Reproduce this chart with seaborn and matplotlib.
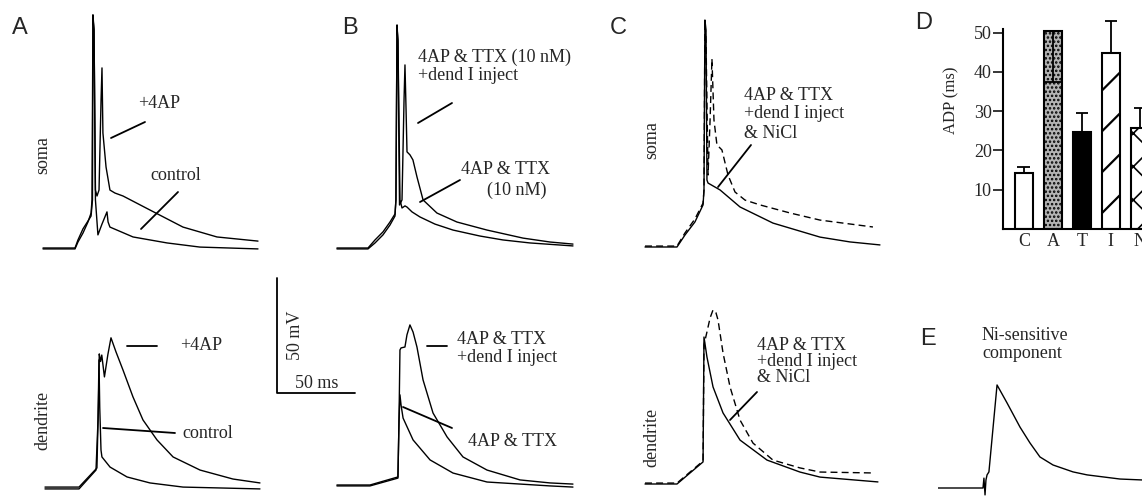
import numpy as np
import pandas as pd
import matplotlib
matplotlib.use("Agg")
import matplotlib.pyplot as plt
import seaborn as sns

# ------------------------------------------------------------------
# DATA  (time in ms after stimulus onset, potential in mV above rest)
# ------------------------------------------------------------------
# A: soma
A_soma_4ap_t = [-20.5, 0, 1.9, 5.1, 8.3, 10.3, 11.2, 11.5, 12.2, 13.1, 14.1, 15.4, 16.7, 17.3,
                17.9, 19.9, 22.4, 25.6, 30.8, 48.1, 69.2, 91, 117.3]
A_soma_4ap_v = [0, 0, 3.5, 8.3, 11.7, 13.9, 20.9, 101.4, 95, 25.2, 22.6, 25.2, 64.4, 78.3,
                50, 35.2, 25.2, 23.9, 22.6, 16.5, 9.1, 4.8, 3.0]
A_soma_ctl_t = [-20.5, 0, 1.9, 5.1, 8.3, 10.3, 10.9, 11.5, 12.2, 13.1, 14.7, 17.3, 20.5, 21.2,
                22.4, 37.2, 59, 80.1, 117.3]
A_soma_ctl_v = [-0.4, -0.4, 2.6, 6.5, 11.3, 15.2, 20.9, 100, 94.8, 20.9, 5.7, 10.4, 15.7, 11.3,
                9.1, 4.8, 2.2, 0.4, -0.4]
# A: dendrite
A_dend_4ap_t = [-21.8, 0, 11.5, 12.5, 13.0, 13.8, 14.6, 16.3, 18.5, 20.5, 23.7, 28.2, 34.6, 41,
                50, 60.3, 77.6, 98.7, 116]
A_dend_4ap_v = [0.4, 0.4, 8.7, 38, 58.3, 55, 57.8, 48.3, 58, 65.3, 59.2, 51.3, 39.6, 29.6,
                20.9, 13.5, 7.8, 3.9, 2.2]
A_dend_ctl_t = [-21.8, 0, 10.9, 12.2, 12.8, 13.3, 14.1, 14.7, 19.9, 30.8, 45.5, 66.7, 116]
A_dend_ctl_v = [-0.4, -0.4, 7.8, 29.6, 55.7, 35, 16.5, 13.5, 9.1, 4.8, 2.2, 0.4, -0.4]
# B: soma
B_soma_inj_t = [-19.9, 0, 4.5, 9.6, 14.1, 17.3, 17.9, 18.6, 19.2, 20.2, 21.8, 23.1, 23.7, 24.4,
                25, 26.9, 28.8, 31.4, 35.3, 44.2, 57, 76.3, 99.4, 116.7, 131.4]
B_soma_inj_v = [0, 0, 3.5, 7, 11.3, 14.8, 20.9, 97, 90, 18.7, 20.9, 64.4, 79.6, 60,
                41.8, 40.5, 38.3, 30.9, 20.9, 15.2, 11.3, 7.8, 4.3, 2.6, 1.7]
B_soma_ttx_t = [-19.9, 0, 4.5, 9.6, 14.1, 17.3, 17.9, 18.6, 19.2, 20.5, 21.8, 23.7, 25, 28.2,
                33.3, 42.9, 54.5, 71.8, 86.5, 103.8, 131.4]
B_soma_ttx_v = [-0.4, -0.4, 2.2, 5.7, 10, 13.9, 20.9, 95.7, 90.5, 20.9, 17.4, 18.3, 17.8, 15.7,
                13.5, 10.4, 7.8, 5.2, 3.5, 2.2, 0.9]
# B: dendrite
B_dend_inj_t = [-21.2, 0, 17.9, 18.6, 19.2, 19.9, 22.4, 23.7, 25.6, 27.6, 30.1, 34, 40.4, 49.4,
                59.6, 75, 96.2, 115.4, 130.1]
B_dend_inj_v = [0, 0, 3.5, 28.3, 58.7, 59.6, 60, 65.3, 69.6, 66.5, 60, 45.7, 31.3, 20.9,
                12.2, 6.5, 2.2, 0.9, 0.4]
B_dend_ttx_t = [-21.2, 0, 17.9, 18.6, 19.2, 19.9, 21.2, 27.6, 38.5, 53.2, 75, 115.4, 130.1]
B_dend_ttx_v = [-0.4, -0.4, 3, 28.3, 39.2, 34.8, 29.1, 19.6, 10.9, 5.2, 1.3, -0.4, -0.9]
# C: soma (solid = + NiCl, dashed = before NiCl)
C_soma_ni_t = [-20.5, 0, 5.1, 11.5, 16.7, 17.3, 17.9, 18.6, 19.2, 19.9, 27.6, 40.4, 61.5, 91.7,
               110.9, 130.1]
C_soma_ni_v = [0, 0, 5.2, 10.9, 18.3, 24.8, 98.7, 94.4, 29.1, 27.8, 24.8, 17.4, 10.4, 4.3,
               2.2, 0.9]
C_soma_pre_t = [-20.5, 0, 5.1, 11.5, 16.7, 17.3, 17.9, 18.6, 19.9, 21.2, 22.4, 23.7, 25.6, 28.8,
                32.7, 37.2, 43.6, 53.2, 72.4, 91.7, 125.6]
C_soma_pre_v = [0.4, 0.4, 6.1, 12.2, 19.1, 24.8, 97.9, 90, 31.3, 55.2, 81.8, 55.2, 44.4, 42.2,
                31.3, 23.9, 20.4, 18.3, 14.8, 11.7, 8.7]
# C: dendrite
C_dend_ni_t = [-20.5, 0, 16.7, 17.3, 19.2, 23.1, 29.5, 40.4, 57.7, 78.8, 91.7, 128.8]
C_dend_ni_v = [0, 0, 9.6, 63.9, 55.2, 42.2, 30.9, 19.1, 10.4, 5.2, 3, 0.9]
C_dend_pre_t = [-20.5, 0, 16.7, 17.3, 19.2, 21.2, 23.1, 25, 26.3, 29.5, 34, 40.4, 48.7, 61.5,
                78.8, 91.7, 125.6]
C_dend_pre_v = [0.4, 0.4, 10, 60.5, 66.1, 72.2, 75.7, 74.4, 71.3, 57, 42.2, 27.8, 17.8, 10.4,
                7, 5.2, 4.8]
# E: Ni-sensitive component
E_t = [-34, 0, 0.6, 1.3, 1.9, 2.6, 3.8, 9, 15.4, 19.2, 23.7, 30.1, 36.5, 44.9, 57.7, 66.7,
       87.8, 101.9]
E_v = [0, 0, 4.3, -3, 3.5, 5.7, 7, 44.8, 37, 32.2, 26.5, 19.6, 13.5, 10, 7, 5.7, 3.9, 3.5]
# D: ADP duration
adp_cats = ["C", "A", "T", "I", "N"]
adp_mean = [14.3, 50.4, 24.6, 44.7, 25.7]
adp_err_up = [1.5, 0.0, 4.9, 8.2, 5.0]
adp_err_down = [0.0, 13.0, 0.0, 0.0, 0.0]
adp_ticks = [10, 20, 30, 40, 50]
scale_mv, scale_ms = 50, 50

# ------------------------------------------------------------------
sns.set_style("white")
plt.rcParams["font.family"] = ["Liberation Serif", "DejaVu Serif"]
plt.rcParams["hatch.linewidth"] = 1.2

W, H = 1142, 496
fig = plt.figure(figsize=(W / 100, H / 100), dpi=100)
PX_MS, PX_MV = 1.56, 2.3


def px_axes(left, top, right, bottom):
    return fig.add_axes([left / W, 1 - bottom / H, (right - left) / W, (bottom - top) / H])


def trace_axes(x0, y0):
    left, right, top, bottom = x0 - 45, x0 + 215, y0 - 245, y0 + 12
    ax = px_axes(left, top, right, bottom)
    ax.set_xlim((left - x0) / PX_MS, (right - x0) / PX_MS)
    ax.set_ylim((y0 - bottom) / PX_MV, (y0 - top) / PX_MV)
    ax.set_axis_off()
    ax.patch.set_alpha(0)
    return ax


def draw(ax, t, v, dashed=False):
    df = pd.DataFrame({"t": t, "v": v})
    sns.lineplot(data=df, x="t", y="v", ax=ax, sort=False, estimator=None,
                 color="black", linewidth=1.0)
    if dashed:
        ax.lines[-1].set_linestyle((0, (5, 3)))


axA1 = trace_axes(75, 248)
draw(axA1, A_soma_ctl_t, A_soma_ctl_v)
draw(axA1, A_soma_4ap_t, A_soma_4ap_v)
axA2 = trace_axes(79, 488)
draw(axA2, A_dend_ctl_t, A_dend_ctl_v)
draw(axA2, A_dend_4ap_t, A_dend_4ap_v)
axB1 = trace_axes(368, 248)
draw(axB1, B_soma_ttx_t, B_soma_ttx_v)
draw(axB1, B_soma_inj_t, B_soma_inj_v)
axB2 = trace_axes(370, 485)
draw(axB2, B_dend_ttx_t, B_dend_ttx_v)
draw(axB2, B_dend_inj_t, B_dend_inj_v)
axC1 = trace_axes(677, 247)
draw(axC1, C_soma_ni_t, C_soma_ni_v)
draw(axC1, C_soma_pre_t, C_soma_pre_v, dashed=True)
axC2 = trace_axes(677, 484)
draw(axC2, C_dend_ni_t, C_dend_ni_v)
draw(axC2, C_dend_pre_t, C_dend_pre_v, dashed=True)
axE = trace_axes(983, 488)
draw(axE, E_t, E_v)

# ---------------- D: bar chart ----------------
D_left, D_bottom, D_px_per_unit, D_spacing = 1003, 229, 3.93, 29.0
D_xlim = (-0.72, 4.5)
D_ylim = (0, 51)
axD = px_axes(D_left, D_bottom - D_ylim[1] * D_px_per_unit,
              D_left + (D_xlim[1] - D_xlim[0]) * D_spacing, D_bottom)
face = {"C": "white", "A": "#b4b4b4", "T": "black", "I": "white", "N": "white"}
sns.barplot(x=adp_cats, y=adp_mean, hue=adp_cats, palette=face, legend=False,
            width=0.6, edgecolor="black", linewidth=1.5, saturation=1,
            errorbar=None, ax=axD)
axD.set_xlim(*D_xlim)
axD.set_ylim(*D_ylim)
for p in axD.patches:
    idx = int(round(p.get_x() + p.get_width() / 2))
    cat = adp_cats[idx]
    p.set_edgecolor("black")
    if cat == "A":
        p.set_hatch("....")
    elif cat == "N":
        p.set_hatch("x")
    elif cat == "I":
        xl, xr = p.get_x(), p.get_x() + p.get_width()
        rise = p.get_width() * D_spacing / D_px_per_unit
        for ys in np.arange(4.1, adp_mean[idx], 10.4):
            ln, = axD.plot([xl, xr], [ys, ys + rise], color="black", lw=1.6, zorder=3)
            ln.set_clip_path(p)

# error bars: a single whisker with one cap (upward, or downward for the clipped A bar)
xpos = np.arange(len(adp_cats))
for i in range(len(adp_cats)):
    if adp_err_down[i] > 0:
        end = adp_mean[i] - adp_err_down[i]
        half = 0.3
    else:
        end = adp_mean[i] + adp_err_up[i]
        half = 0.22
    axD.vlines(xpos[i], adp_mean[i], end, color="black", lw=1.3, zorder=4, clip_on=False)
    axD.hlines(end, xpos[i] - half, xpos[i] + half, color="black", lw=1.3, zorder=4,
               clip_on=False)

sns.despine(ax=axD, top=True, right=True)
for s in ("left", "bottom"):
    axD.spines[s].set_linewidth(1.5)
    axD.spines[s].set_color("black")
axD.set_yticks(adp_ticks)
axD.set_yticklabels([str(t) for t in adp_ticks], fontsize=13)
axD.tick_params(axis="y", direction="out", length=7, width=1.3, pad=1, left=True)
axD.tick_params(axis="x", length=0, pad=3, labelsize=13)
axD.set_xticks(xpos)
axD.set_xticklabels(adp_cats)
axD.set_xlabel("")
axD.set_ylabel("ADP (ms)", fontsize=12)
axD.yaxis.set_label_coords(-0.29, 0.64)
axD.patch.set_alpha(0)

# ---------------- overlay: labels, pointers, scale bar ----------------
ov = fig.add_axes([0, 0, 1, 1], zorder=10)
ov.set_xlim(0, W)
ov.set_ylim(H, 0)
ov.set_axis_off()
ov.patch.set_alpha(0)

for letter, x, y in [("A", 12, 28), ("B", 342, 28), ("C", 610, 28), ("D", 915, 23), ("E", 920, 339)]:
    ov.text(x, y, letter, fontsize=17, family=["Liberation Sans", "DejaVu Sans"],
            ha="left", va="center")

for txt, x, y in [("soma", 43, 155), ("dendrite", 43, 420), ("soma", 652, 140), ("dendrite", 652, 437)]:
    ov.text(x, y, txt, fontsize=13, rotation=90, ha="center", va="center")

labels = [
    ("+4AP", 138, 103), ("control", 150, 175),
    ("+4AP", 180, 345), ("control", 182, 433),
    ("4AP & TTX (10 nM)", 418, 57), ("+dend I inject", 418, 76),
    ("4AP & TTX", 461, 170), ("(10 nM)", 487, 190),
    ("4AP & TTX", 457, 340), ("+dend I inject", 457, 357),
    ("4AP & TTX", 468, 441),
    ("4AP & TTX", 744, 96), ("+dend I inject", 744, 114), ("& NiCl", 744, 133),
    ("4AP & TTX", 757, 345), ("+dend I inject", 757, 362), ("& NiCl", 757, 378),
    ("Ni-sensitive", 982, 335), ("component", 982, 354),
]
for txt, x, y in labels:
    ov.text(x, y, txt, fontsize=13, ha="left", va="center")

pointers = [
    ((145, 122), (111, 138)), ((178, 192), (141, 229)),
    ((127, 346), (157, 346)), ((103, 428), (175, 433)),
    ((452, 103), (418, 123)), ((460, 180), (420, 202)),
    ((427, 346), (447, 346)), ((403, 407), (452, 428)),
    ((751, 145), (718, 187)), ((757, 392), (730, 420)),
]
for (x1, y1), (x2, y2) in pointers:
    ov.plot([x1, x2], [y1, y2], color="black", lw=1.3)

# scale bar
sb_x, sb_y = 277, 393
ov.plot([sb_x, sb_x, sb_x + scale_ms * PX_MS], [sb_y - scale_mv * PX_MV, sb_y, sb_y],
        color="black", lw=1.3)
ov.text(sb_x + 18, sb_y - scale_mv * PX_MV / 2, f"{scale_mv} mV", fontsize=13,
        rotation=90, ha="center", va="center")
ov.text(sb_x + 40, sb_y - 1, f"{scale_ms} ms", fontsize=13, ha="center", va="bottom")

fig.savefig("out.png", dpi=100)
